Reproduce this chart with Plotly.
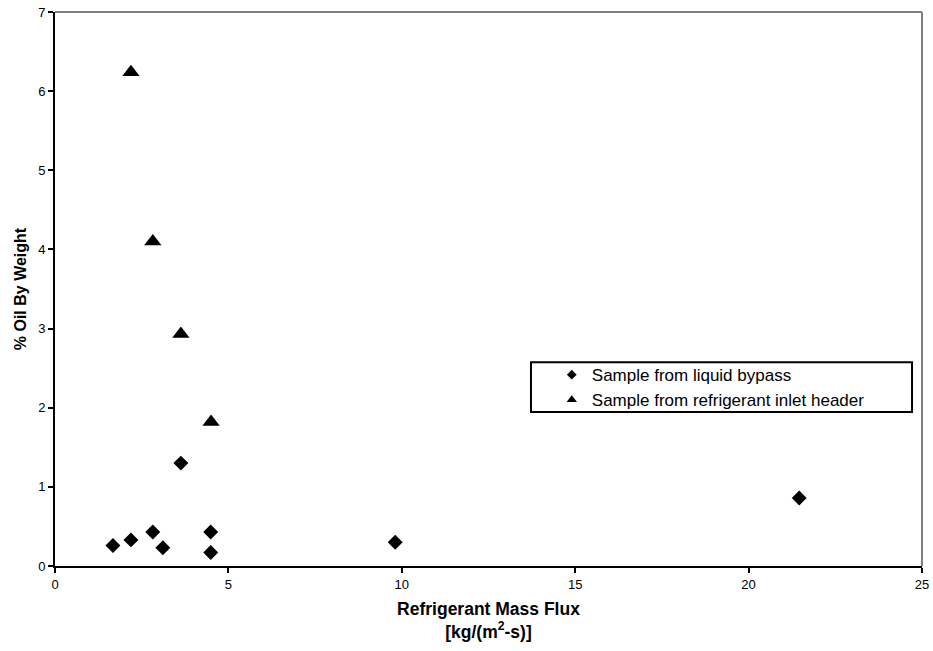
import plotly.graph_objects as go

# Data
bypass_x = [1.67, 2.19, 2.82, 3.11, 4.49, 4.49, 3.63, 9.81, 21.46]
bypass_y = [0.26, 0.33, 0.43, 0.23, 0.43, 0.17, 1.30, 0.30, 0.86]
header_x = [2.19, 2.82, 3.63, 4.50]
header_y = [6.24, 4.10, 2.93, 1.82]
series_names = ["Sample from liquid bypass", "Sample from refrigerant inlet header"]
x_ticks = [0, 5, 10, 15, 20, 25]
y_ticks = [0, 1, 2, 3, 4, 5, 6, 7]

FONT = "Liberation Sans, Arial, sans-serif"

fig = go.Figure()
fig.add_trace(go.Scatter(x=bypass_x, y=bypass_y, mode="markers",
                         marker=dict(symbol="diamond", size=11.5, color="black"),
                         showlegend=False, name=series_names[0]))
fig.add_trace(go.Scatter(x=header_x, y=header_y, mode="markers",
                         marker=dict(symbol="triangle-up", size=15, color="black"),
                         showlegend=False, name=series_names[1]))
# legend-only entries with smaller symbols
fig.add_trace(go.Scatter(x=[None], y=[None], mode="markers",
                         marker=dict(symbol="diamond", size=7.5, color="black"),
                         name=series_names[0]))
fig.add_trace(go.Scatter(x=[None], y=[None], mode="markers",
                         marker=dict(symbol="triangle-up", size=9, color="black"),
                         name=series_names[1]))

fig.update_layout(
    width=933, height=651,
    margin=dict(l=55, r=11, t=12, b=85),
    paper_bgcolor="white", plot_bgcolor="white",
    font=dict(family=FONT, size=13, color="black"),
    xaxis=dict(range=[0, 25], tickvals=x_ticks, ticks="outside", ticklen=5,
               tickwidth=2, tickcolor="black", showline=True, linecolor="black",
               linewidth=2, showgrid=False, zeroline=False, automargin=False,
               tickfont=dict(size=13), ticklabeloverflow="allow",
               title=dict(text="<b>Refrigerant Mass Flux<br>[kg/(m<sup>2</sup>-s)]</b>",
                          font=dict(size=17.5), standoff=12)),
    yaxis=dict(range=[0, 7], tickvals=y_ticks, ticks="outside", ticklen=5,
               tickwidth=2, tickcolor="black", showline=True, linecolor="black",
               linewidth=2, showgrid=False, zeroline=False, automargin=False,
               tickfont=dict(size=13), ticklabeloverflow="allow",
               title=dict(text="<b>% Oil By Weight</b>", font=dict(size=16), standoff=8)),
    legend=dict(x=0.573, y=0.377, xanchor="left", yanchor="top",
                bgcolor="rgba(0,0,0,0)", borderwidth=0,
                font=dict(size=17, family=FONT), tracegroupgap=0,
                itemsizing="trace"),
    shapes=[
        dict(type="line", xref="paper", yref="paper", x0=0, x1=1, y0=1, y1=1,
             line=dict(color="#808080", width=2)),
        dict(type="line", xref="paper", yref="paper", x0=1, x1=1, y0=0, y1=1,
             line=dict(color="#808080", width=2)),
        dict(type="rect", xref="paper", yref="paper", x0=0.549, x1=0.9885,
             y0=0.278, y1=0.368, line=dict(color="black", width=2),
             fillcolor="rgba(0,0,0,0)"),
    ],
)

fig.write_html("out.html", config={"displayModeBar": False},
               post_script="document.body.style.margin='0';document.body.style.overflow='hidden';")
